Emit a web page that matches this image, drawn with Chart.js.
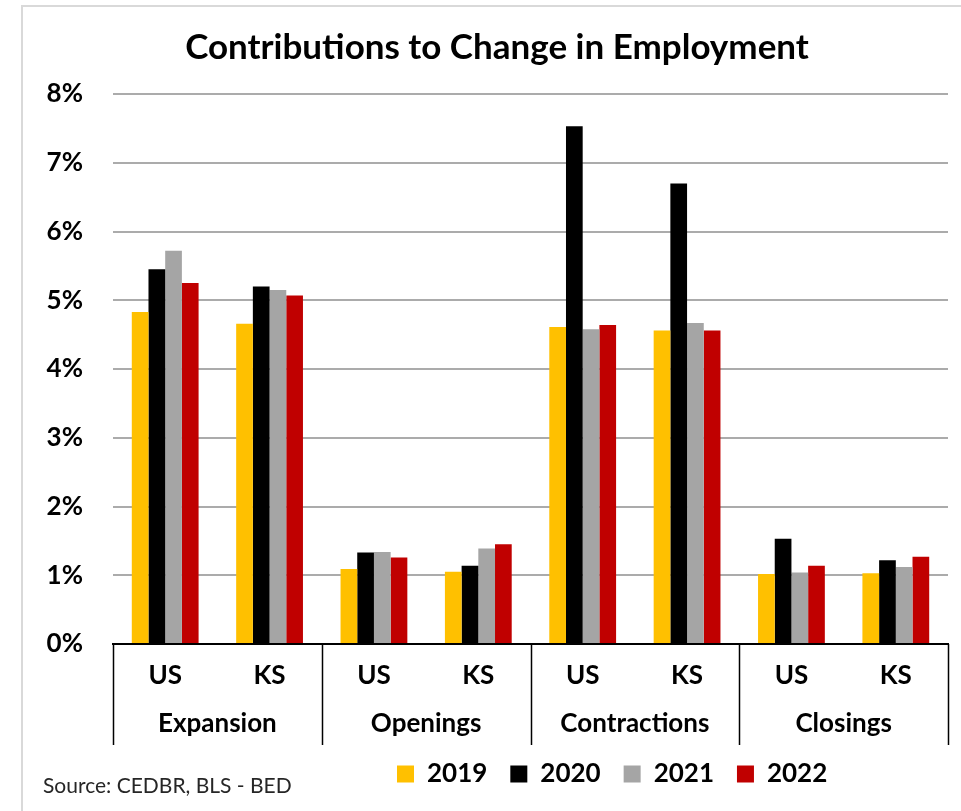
<!DOCTYPE html>
<html>
<head>
<meta charset="utf-8">
<title>Contributions to Change in Employment</title>
<script src="https://cdn.jsdelivr.net/npm/chart.js@4.4.0/dist/chart.umd.min.js"></script>
<style>
  html, body { margin: 0; padding: 0; background: #fff; }
  #wrap { position: relative; width: 961px; height: 811px; }
</style>
</head>
<body>
<div id="wrap"><canvas id="employmentChart" width="961" height="811"></canvas></div>
<script>
const areas = ["US", "KS", "US", "KS", "US", "KS", "US", "KS"];
const groups = ["Expansion", "Openings", "Contractions", "Closings"];
const yTicks = [0, 1, 2, 3, 4, 5, 6, 7, 8];

const share2019 = [4.83, 4.66, 1.09, 1.05, 4.61, 4.56, 1.02, 1.03];
const share2020 = [5.45, 5.20, 1.33, 1.14, 7.53, 6.70, 1.53, 1.22];
const share2021 = [5.72, 5.15, 1.34, 1.39, 4.58, 4.67, 1.04, 1.12];
const share2022 = [5.25, 5.07, 1.26, 1.45, 4.64, 4.56, 1.14, 1.27];

const FONT = 'Lato, "Open Sans", sans-serif';

// frame, group row under the axis, and the source note
const decorations = {
  id: "decorations",
  beforeDraw(chart) {
    const { ctx } = chart;
    ctx.save();
    ctx.strokeStyle = "#d9d9d9";
    ctx.lineWidth = 2;
    ctx.strokeRect(22, 6, 1000, 1000);
    ctx.restore();
  },
  afterLayout(chart) {
    const shift = 23;
    chart.titleBlock.left += shift;
    chart.titleBlock.right += shift;
    chart.legend.left = 374;
    chart.legend.right = chart.width;
  },
  afterDraw(chart) {
    const { ctx } = chart;
    const x = chart.scales.x;
    const half = (x.getPixelForValue(1) - x.getPixelForValue(0)) / 2;
    const top = x.top;
    ctx.save();
    ctx.strokeStyle = "#000";
    ctx.lineWidth = 1.5;
    ctx.beginPath();
    for (let i = 0; i <= groups.length; i++) {
      const px = i < groups.length
        ? x.getPixelForValue(i * 2) - half
        : x.getPixelForValue(areas.length - 1) + half;
      ctx.moveTo(Math.round(px) + 0.5, top);
      ctx.lineTo(Math.round(px) + 0.5, top + 101);
    }
    ctx.stroke();

    ctx.fillStyle = "#000";
    ctx.font = "bold 26px " + FONT;
    ctx.textAlign = "center";
    ctx.textBaseline = "middle";
    groups.forEach((g, i) => {
      const cx = (x.getPixelForValue(i * 2) + x.getPixelForValue(i * 2 + 1)) / 2;
      ctx.fillText(g, cx, top + 80);
    });

    ctx.font = "21px " + FONT;
    ctx.fillStyle = "#262626";
    ctx.textAlign = "left";
    ctx.fillText("Source: CEDBR, BLS - BED", 43, 786);
    ctx.restore();
  }
};

const series = [
  { label: "2019", data: share2019, color: "#FFC000" },
  { label: "2020", data: share2020, color: "#000000" },
  { label: "2021", data: share2021, color: "#A5A5A5" },
  { label: "2022", data: share2022, color: "#C00000" }
];

new Chart(document.getElementById("employmentChart"), {
  type: "bar",
  data: {
    labels: areas,
    datasets: series.map((s) => ({
      label: s.label,
      data: s.data,
      backgroundColor: s.color,
      borderWidth: 0,
      categoryPercentage: 0.64,
      barPercentage: 1.0
    }))
  },
  options: {
    responsive: false,
    animation: false,
    layout: { padding: { left: 0, right: 13, top: 0, bottom: 14 } },
    plugins: {
      title: {
        display: true,
        text: "Contributions to Change in Employment",
        color: "#000",
        font: { family: FONT, size: 35, weight: "bold" },
        padding: { top: 27, bottom: 25 }
      },
      legend: {
        position: "bottom",
        align: "start",
        labels: {
          color: "#000",
          font: { family: FONT, size: 26, weight: "bold" },
          boxWidth: 17,
          boxHeight: 17,
          padding: 23
        }
      },
      tooltip: { enabled: false }
    },
    scales: {
      x: {
        grid: { display: false, drawTicks: false },
        border: { display: true, color: "#000", width: 2 },
        ticks: {
          color: "#000",
          font: { family: FONT, size: 26, weight: "bold" },
          padding: 16,
          maxRotation: 0
        },
        afterFit: (scale) => { scale.height = 94; }
      },
      y: {
        min: 0,
        max: 8,
        afterBuildTicks: (scale) => { scale.ticks = yTicks.map((v) => ({ value: v })); },
        grid: { color: "#ababab", lineWidth: 2, drawTicks: false },
        border: { display: false },
        ticks: {
          color: "#000",
          font: { family: FONT, size: 26, weight: "bold" },
          padding: 30,
          callback: (v) => v + "%"
        },
        afterFit: (scale) => { scale.width = 113; }
      }
    }
  },
  plugins: [decorations]
});
</script>
</body>
</html>
